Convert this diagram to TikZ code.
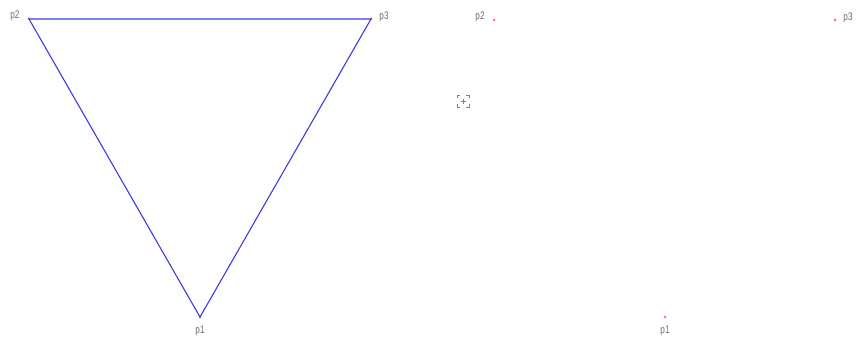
\documentclass[tikz,border=0pt]{standalone}
\usepackage{fontspec}
\setmainfont{Liberation Sans}
\begin{document}
\begin{tikzpicture}[x=1pt,y=-1pt,
  lbl/.style={font=\fontsize{11}{12}\selectfont, text=gray!85!black, inner sep=0pt, xscale=0.75},
  pt/.style={circle, fill=red!55, inner sep=0pt, minimum size=3pt},
  edge/.style={draw={rgb,255:red,60;green,60;blue,220}, line width=1.1pt}]
\useasboundingbox (0,0) rectangle (857,345);
% left triangle
\node[pt] (a2) at (29,19) {};
\node[pt] (a3) at (371,19) {};
\node[pt] (a1) at (200,317) {};
\draw[edge] (a2.center) -- (a3.center) -- (a1.center) -- cycle;
\node[lbl] (la2) at (15,16) {p2};
\node[lbl] (la3) at (384,17) {p3};
\node[lbl] (la1) at (200,331) {p1};
% right points
\node[pt] (b2) at (494,20) {};
\node[pt] (b3) at (835,20) {};
\node[pt] (b1) at (665,317) {};
\node[lbl] (lb2) at (480,17) {p2};
\node[lbl] (lb3) at (848,18) {p3};
\node[lbl] (lb1) at (665,331) {p1};
% crosshair icon
\node (icon) at (463,101) {};
\begin{scope}[shift={(icon.center)}, draw=gray, line width=0.8pt]
\draw (-6,-3) -- (-6,-6) -- (-3,-6);
\draw (3,-6) -- (6,-6) -- (6,-3);
\draw (6,3) -- (6,6) -- (3,6);
\draw (-3,6) -- (-6,6) -- (-6,3);
\draw (-2.5,0) -- (2.5,0);
\draw (0,-2.5) -- (0,2.5);
\end{scope}
\end{tikzpicture}
\end{document}
